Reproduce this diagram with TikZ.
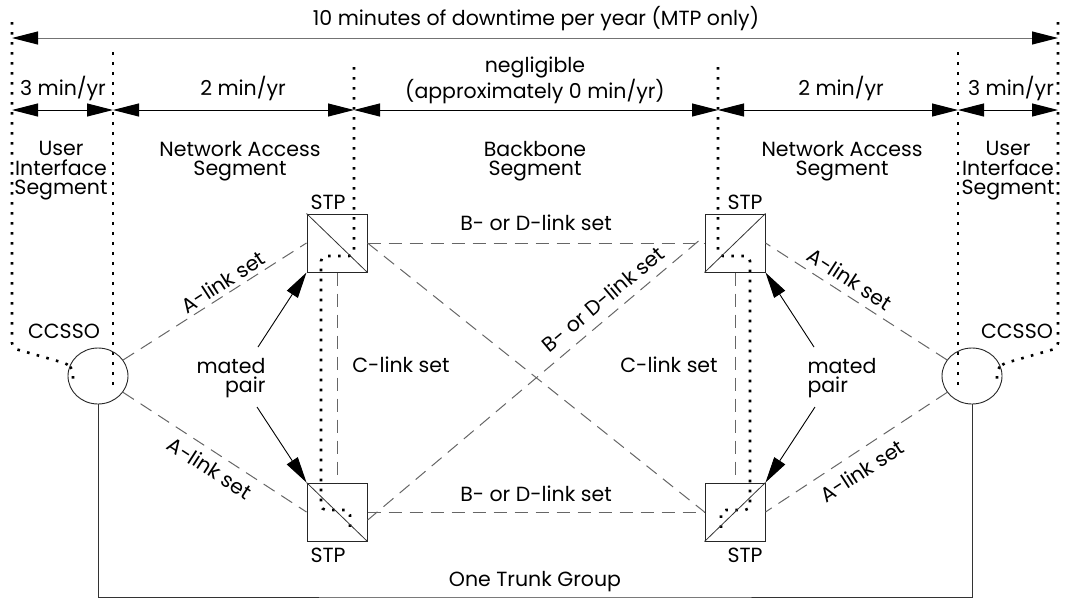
\documentclass[tikz,border=0pt]{standalone}
\usepackage{fontspec}
\setmainfont{Poppins}
\usetikzlibrary{arrows.meta,shapes.geometric}
\begin{document}
\begin{tikzpicture}[x=1pt,y=-1pt,
  lbl/.style={font=\fontsize{20.5}{19.5}\selectfont, inner sep=0pt, align=center},
  stpbox/.style={draw=black!85, line width=1pt, minimum width=60pt, minimum height=58pt, inner sep=0pt},
  office/.style={ellipse, draw=black!85, line width=0.9pt, minimum width=60pt, minimum height=56pt, inner sep=0pt},
  link/.style={draw=black!60, line width=1pt, dash pattern=on 13pt off 8pt},
  seg/.style={line width=2.6pt, dash pattern=on 2.6pt off 7.4pt, line cap=butt, rounded corners=5pt},
  dim/.style={line width=1pt, {Triangle[length=26pt,width=13pt,color=black]}-{Triangle[length=26pt,width=13pt,color=black]}},
  mate/.style={line width=0.9pt, -{Triangle[length=26pt,width=13pt]}},
  trunk/.style={line width=1pt, draw=black!80},
  diag/.style={line width=0.8pt, draw=black!80}
]
\useasboundingbox (0,0) rectangle (1068,600);

% segment boundaries (dotted)
\draw[seg] (12,22) -- (12,348) -- (68,364) -- (73,370) -- (73,386);
\draw[seg] (113,52) -- (113,390);
\draw[seg] (354,67) -- (354,256) -- (321,256) -- (321,510) -- (350,510) -- (350,534);
\draw[seg] (718,67) -- (718,256) -- (750,256) -- (750,510) -- (721,510) -- (721,534);
\draw[seg] (958,52) -- (958,390);
\draw[seg] (1058,22) -- (1058,348) -- (1002,364) -- (997,370) -- (997,386);

% dimension lines
\coordinate (xa) at (12,38);
\coordinate (xb) at (1058,38);
\draw[dim, draw=black!55] (xa) -- (xb);
\node[lbl] (title) at (536,19) {10 minutes of downtime per year (MTP only)};

\coordinate (d1) at (12,110);
\coordinate (d2) at (113,110);
\coordinate (d3) at (354,110);
\coordinate (d4) at (718,110);
\coordinate (d5) at (958,110);
\coordinate (d6) at (1058,110);
\draw[dim] (d1) -- (d2);
\draw[dim] (d2) -- (d3);
\draw[dim] (d3) -- (d4);
\draw[dim] (d4) -- (d5);
\draw[dim] (d5) -- (d6);

\node[lbl] (m1) at (63,88) {3 min/yr};
\node[lbl] (m2) at (243,88) {2 min/yr};
\node[lbl] (m3) at (535,80) {negligible\\(approximately 0 min/yr)};
\node[lbl] (m4) at (841,88) {2 min/yr};
\node[lbl] (m5) at (1011,88) {3 min/yr};

\node[lbl] (s1) at (61,171) {User\\Interface\\Segment};
\node[lbl] (s2) at (240,161) {Network Access\\Segment};
\node[lbl] (s3) at (535,161) {Backbone\\Segment};
\node[lbl] (s4) at (842,161) {Network Access\\Segment};
\node[lbl] (s5) at (1008,171) {User\\Interface\\Segment};

% offices and STPs
\node[office] (ccL) at (98,376) {};
\node[office] (ccR) at (972,376) {};
\node[lbl] (ccLl) at (64,331) {CCSSO};
\node[lbl] (ccRl) at (1017,331) {CCSSO};

\node[stpbox] (stpTL) at (337,243) {};
\node[stpbox] (stpBL) at (337,512) {};
\node[stpbox] (stpTR) at (735,243) {};
\node[stpbox] (stpBR) at (735,512) {};
\draw[diag] (stpTL.north west) -- (stpTL.south east);
\draw[diag] (stpBL.north west) -- (stpBL.south east);
\draw[diag] (stpTR.south west) -- (stpTR.north east);
\draw[diag] (stpBR.south west) -- (stpBR.north east);
\node[lbl] (lTL) at (328,202) {STP};
\node[lbl] (lTR) at (745,202) {STP};
\node[lbl] (lBL) at (328,555) {STP};
\node[lbl] (lBR) at (745,555) {STP};

% links
\draw[link] (ccL) -- (stpTL.west);
\draw[link] (ccL) -- (stpBL.west);
\draw[link] (ccR) -- (stpTR.east);
\draw[link] (ccR) -- (stpBR.east);
\draw[link] (stpTL.east) -- (stpTR.west);
\draw[link] (stpBL.east) -- (stpBR.west);
\draw[link] (stpTL.east) -- (stpBR.west);
\draw[link] (stpBL.-15) -- (stpTR.167);
\draw[link] (stpTL.south) -- (stpBL.north);
\draw[link] (stpTR.south) -- (stpBR.north);

\node[lbl, rotate=33] (aTL) at (223,282) {A-link set};
\node[lbl, rotate=-33] (aBL) at (210,468) {A-link set};
\node[lbl, rotate=-33] (aTR) at (850,279) {A-link set};
\node[lbl, rotate=33] (aBR) at (862,471) {A-link set};
\node[lbl] (bdT) at (536,223) {B- or D-link set};
\node[lbl] (bdB) at (536,494) {B- or D-link set};
\node[lbl, rotate=40] (bdD) at (603,299) {B- or D-link set};
\node[lbl] (cL) at (401,365) {C-link set};
\node[lbl] (cR) at (669,365) {C-link set};

% mated pairs
\node[lbl, align=right] (mpL) at (231,378) {mated\\pair};
\node[lbl, align=left] (mpR) at (842,378) {mated\\pair};
\coordinate (mpL1) at (258,347);
\coordinate (mpL2) at (257,407);
\coordinate (mpR1) at (814,347);
\coordinate (mpR2) at (815,407);
\draw[mate] (mpL1) -- (stpTL.south west);
\draw[mate] (mpL2) -- (stpBL.north west);
\draw[mate] (mpR1) -- (stpTR.south east);
\draw[mate] (mpR2) -- (stpBR.north east);

% trunk
\coordinate (tb) at (535,597);
\draw[trunk] (ccL.south) |- (tb) -| (ccR.south);
\node[lbl] (trk) at (535,582) {One Trunk Group};
\end{tikzpicture}
\end{document}
